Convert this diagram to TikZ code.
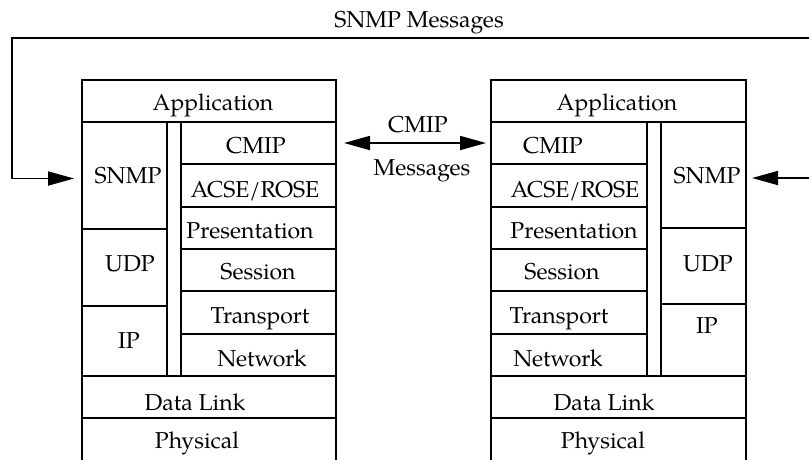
\documentclass[tikz,border=0pt]{standalone}
\usepackage{fontspec}
\setmainfont{TeX Gyre Pagella}
\usetikzlibrary{arrows.meta}
\newcommand\mkcell[5]{\node[cell, minimum width={#4-#2}, minimum height={#5-#3}] (#1) at ({(#2+#4)/2},{(#3+#5)/2}) {};}
\newcommand\mktxt[4]{\node[txt] (#1) at (#2,#3) {#4};}
\begin{document}
\begin{tikzpicture}[x=1pt,y=-1pt,
 cell/.style={draw, line width=1.8pt, inner sep=0pt, outer sep=0pt, rectangle},
 txt/.style={inner sep=0pt, anchor=base, font=\fontsize{23}{27}\selectfont},
 tip/.tip={Triangle[length=26pt,width=14pt]},
 conn/.style={line width=1.8pt, tip-tip},
]
\useasboundingbox (0,0) rectangle (809,459);
% left stack
\mkcell{lapp}{82}{80}{336}{122}
\mkcell{lsnmp}{82}{122}{167}{229}
\mkcell{ludp}{82}{229}{167}{306}
\mkcell{lip}{82}{306}{167}{376}
\mkcell{lcmip}{181}{122}{336}{164}
\mkcell{lacse}{181}{164}{336}{207}
\mkcell{lpres}{181}{207}{336}{249}
\mkcell{lsess}{181}{249}{336}{291}
\mkcell{ltrans}{181}{291}{336}{334}
\mkcell{lnet}{181}{334}{336}{376}
\mkcell{ldl}{82}{376}{336}{418}
\mkcell{lphy}{82}{418}{336}{475}
% right stack
\mkcell{rapp}{491}{80}{746}{122}
\mkcell{rcmip}{491}{122}{647}{164}
\mkcell{racse}{491}{164}{647}{207}
\mkcell{rpres}{491}{207}{647}{249}
\mkcell{rsess}{491}{249}{647}{291}
\mkcell{rtrans}{491}{291}{647}{334}
\mkcell{rnet}{491}{334}{647}{376}
\mkcell{rsnmp}{661}{122}{746}{228}
\mkcell{rudp}{661}{228}{746}{304}
\mkcell{rip}{661}{304}{746}{376}
\mkcell{rdl}{491}{376}{746}{418}
\mkcell{rphy}{491}{418}{746}{475}
% left texts
\mktxt{tlapp}{213}{110}{Application}
\mktxt{tlsnmp}{128}{183}{SNMP}
\mktxt{tludp}{130}{271}{UDP}
\mktxt{tlip}{129}{348}{IP}
\mktxt{tlcmip}{256}{153}{CMIP}
\mktxt{tlacse}{255}{197}{ACSE/ROSE}
\mktxt{tlpres}{250}{238}{Presentation}
\mktxt{tlsess}{258}{279}{Session}
\mktxt{tltrans}{260}{323}{Transport}
\mktxt{tlnet}{262}{366}{Network}
\mktxt{tldl}{195}{410}{Data Link}
\mktxt{tlphy}{197}{448}{Physical}
% right texts
\mktxt{trapp}{617}{110}{Application}
\mktxt{trcmip}{553}{153}{CMIP}
\mktxt{tracse}{575}{197}{ACSE/ROSE}
\mktxt{trpres}{574}{238}{Presentation}
\mktxt{trsess}{562}{279}{Session}
\mktxt{trtrans}{559}{323}{Transport}
\mktxt{trnet}{558}{366}{Network}
\mktxt{trsnmp}{707}{183}{SNMP}
\mktxt{trudp}{708}{271}{UDP}
\mktxt{trip}{707}{333}{IP}
\mktxt{trdl}{604}{410}{Data Link}
\mktxt{trphy}{603}{448}{Physical}
% message labels
\mktxt{title}{419}{27}{SNMP Messages}
\mktxt{cmiplbl}{418}{132}{CMIP}
\mktxt{msglbl}{422}{175}{Messages}
% connectors
\coordinate (tl) at (12,38);
\coordinate (tr) at (822,38);
\draw[conn, shorten <=8pt, shorten >=6pt] ([yshift=-3pt]lsnmp.west) -| (tl) -- (tr) |- ([yshift=-3pt]rsnmp.east);
\draw[conn, shorten <=8pt, shorten >=5pt] (lcmip.east) -- (rcmip.west);
\end{tikzpicture}
\end{document}
